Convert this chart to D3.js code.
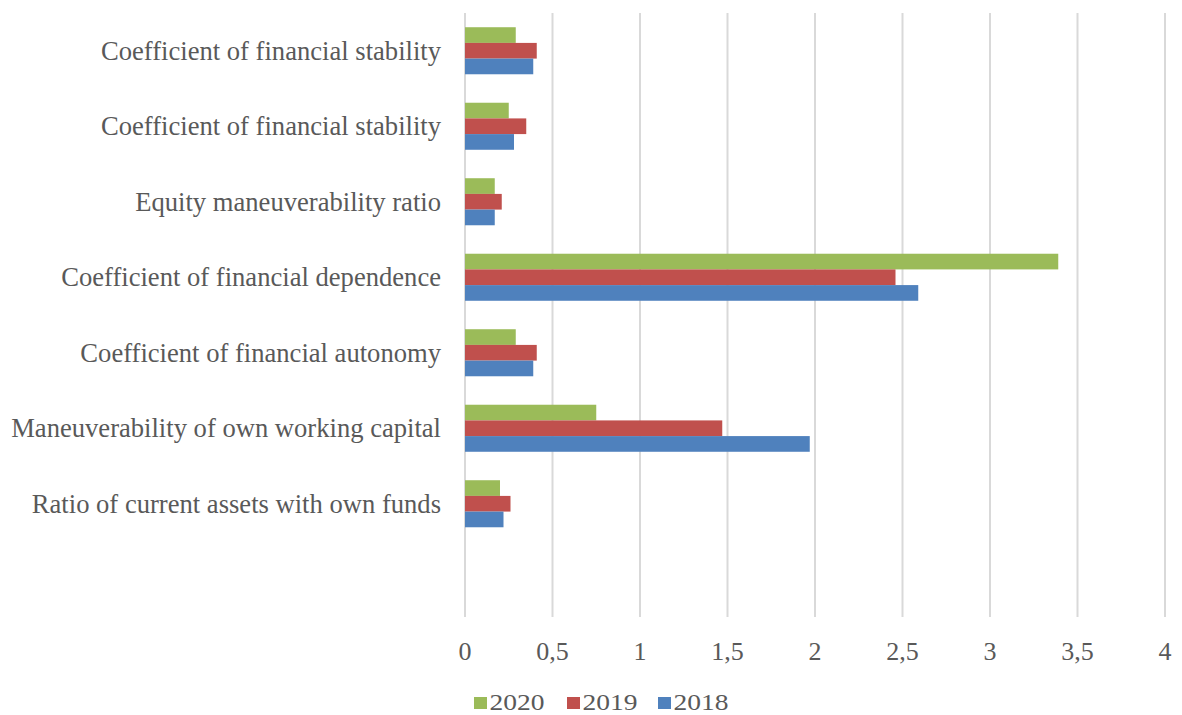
<!DOCTYPE html>
<html>
<head>
<meta charset="utf-8">
<script src="https://cdn.jsdelivr.net/npm/d3@7/dist/d3.min.js"></script>
<style>
  html, body { margin: 0; padding: 0; background: #fff; }
  svg { display: block; }
  text { font-family: "Liberation Serif", "Times New Roman", serif; fill: #595959; }
</style>
</head>
<body>
<svg id="chart" width="1182" height="715"></svg>
<script>
// Financial ratios by year (top to bottom); the last slot is an empty row
const categories = [
  "Coefficient of financial stability",
  "Coefficient of financial stability ",
  "Equity maneuverability ratio",
  "Coefficient of financial dependence",
  "Coefficient of financial autonomy",
  "Maneuverability of own working capital",
  "Ratio of current assets with own funds",
  ""
];
const years = ["2020", "2019", "2018"];
const values2020 = [0.29, 0.25, 0.17, 3.39, 0.29, 0.75, 0.20, null];
const values2019 = [0.41, 0.35, 0.21, 2.46, 0.41, 1.47, 0.26, null];
const values2018 = [0.39, 0.28, 0.17, 2.59, 0.39, 1.97, 0.22, null];
const xTicks = [0, 0.5, 1, 1.5, 2, 2.5, 3, 3.5, 4];
const colors = { "2020": "#9BBB59", "2019": "#C0504D", "2018": "#4F81BD" };

const series = { "2020": values2020, "2019": values2019, "2018": values2018 };

const svg = d3.select("#chart");
const plot = { left: 465, right: 1165, top: 13, bottom: 617 };

const x = d3.scaleLinear().domain([0, 4]).range([plot.left, plot.right]);
const y = d3.scaleBand().domain(d3.range(categories.length))
  .range([plot.top, plot.bottom]).paddingInner(0.377).paddingOuter(0.1885);
const ySub = d3.scaleBand().domain(years).range([0, y.bandwidth()]);

const fmt = v => String(v).replace(".", ",");

// vertical gridlines
svg.append("g").selectAll("line").data(xTicks).join("line")
  .attr("x1", d => x(d)).attr("x2", d => x(d))
  .attr("y1", plot.top).attr("y2", plot.bottom)
  .attr("stroke", "#d9d9d9").attr("stroke-width", 2);

// bars
const groups = svg.append("g").selectAll("g").data(categories).join("g")
  .attr("transform", (d, i) => `translate(0,${y(i)})`);
groups.selectAll("rect")
  .data((d, i) => years.map(yr => ({ yr, v: series[yr][i] })).filter(e => e.v != null))
  .join("rect")
  .attr("x", x(0))
  .attr("y", e => ySub(e.yr))
  .attr("width", e => x(e.v) - x(0))
  .attr("height", ySub.bandwidth())
  .attr("fill", e => colors[e.yr]);

// category labels
svg.append("g").selectAll("text").data(categories).join("text")
  .attr("x", 441)
  .attr("y", (d, i) => y(i) + y.bandwidth() / 2 + 9)
  .attr("text-anchor", "end")
  .attr("font-size", 26.6)
  .text(d => d);

// x tick labels
svg.append("g").selectAll("text").data(xTicks).join("text")
  .attr("x", d => x(d))
  .attr("y", 659.5)
  .attr("text-anchor", "middle")
  .attr("font-size", 26)
  .text(fmt);

// legend
const legendX = [474, 567, 658];
const legend = svg.append("g").selectAll("g").data(years).join("g")
  .attr("transform", (d, i) => `translate(${legendX[i]},697)`);
legend.append("rect").attr("width", 13).attr("height", 12).attr("fill", d => colors[d]);
legend.append("text").attr("x", 15.5).attr("y", 12.5)
  .attr("font-size", 24)
  .attr("textLength", 55).attr("lengthAdjust", "spacingAndGlyphs")
  .text(d => d);
</script>
</body>
</html>
